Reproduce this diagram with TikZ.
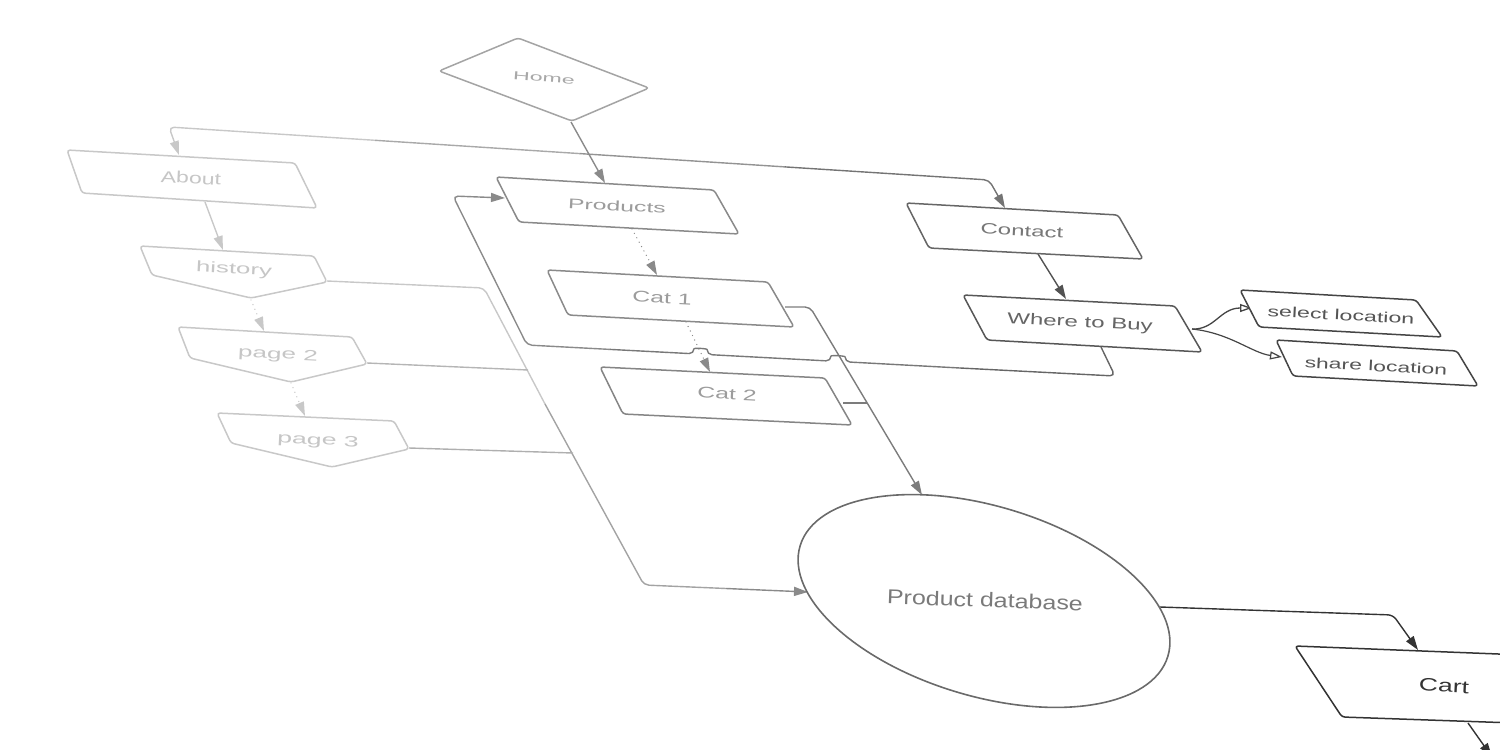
\documentclass[tikz,border=0pt]{standalone}
\usepackage{fontspec}
\setmainfont{Liberation Sans}
\usetikzlibrary{arrows.meta,shapes.geometric,calc}
\definecolor{cA}{HTML}{C8C8C8}
\definecolor{tA}{HTML}{C6C6C6}
\definecolor{cH}{HTML}{A4A4A4}
\definecolor{tH}{HTML}{A8A8A8}
\definecolor{cP}{HTML}{8A8A8A}
\definecolor{tP}{HTML}{9C9C9C}
\definecolor{cC}{HTML}{666666}
\definecolor{tC}{HTML}{777777}
\definecolor{cS}{HTML}{454545}
\definecolor{tS}{HTML}{555555}
\definecolor{cD}{HTML}{6A6A6A}
\definecolor{tD}{HTML}{7A7A7A}
\definecolor{cK}{HTML}{333333}
\tikzset{
  shapeline/.style={line width=1.5pt, rounded corners=3pt, fill=white, line join=round},
  conn/.style={line width=1.4pt, rounded corners=5pt},
  filltip/.style={-{Triangle[length=14pt,width=9pt]}},
  opentip/.style={-{Triangle[open,length=12pt,width=8pt,fill=white]}},
  dotline/.style={line width=1.4pt, line cap=round, dash pattern=on 0pt off 5pt},
  lbl/.style n args={4}{inner sep=0pt, text=#4, rotate=#3, xscale=#2, font=\fontsize{#1}{#1}\selectfont},
}
\begin{document}
\begin{tikzpicture}[x=1pt,y=-1pt]
\useasboundingbox (0,0) rectangle (1500,750);

% ---------- named anchor coordinates ----------
\coordinate (homeB) at (571,122);
\coordinate (aboutTop) at (179,155);
\coordinate (aboutB) at (205,202);
\coordinate (histTop) at (223,250);
\coordinate (histR) at (327,281);
\coordinate (histB) at (251,300);
\coordinate (p2Top) at (264,331);
\coordinate (p2R) at (367,363);
\coordinate (p2B) at (291,383);
\coordinate (p3Top) at (305,416);
\coordinate (p3R) at (409,448);
\coordinate (prodTop) at (605,183);
\coordinate (prodL) at (505,198);
\coordinate (prodB) at (632,229);
\coordinate (cat1Top) at (657,275);
\coordinate (cat1R) at (785,307);
\coordinate (cat1B) at (686,322);
\coordinate (cat2Top) at (710,372);
\coordinate (cat2R) at (843,403);
\coordinate (contactTop) at (1005,208);
\coordinate (contactB) at (1038,254);
\coordinate (whereTop) at (1066,299);
\coordinate (whereB) at (1101,347);
\coordinate (whereR) at (1192,329);
\coordinate (selL) at (1252,308);
\coordinate (shareL) at (1282,357);
\coordinate (dbTop) at (922,495);
\coordinate (dbL) at (808,592);
\coordinate (dbR) at (1160,607);
\coordinate (cartTop) at (1418,650);
\coordinate (cartB) at (1468,723);
\coordinate (cartOut) at (1492,757);
% corners of connectors
\coordinate (tlc1) at (169,127);
\coordinate (tlc2) at (989,180);
\coordinate (tlm1) at (375,140.3);
\coordinate (tlm2) at (580,153.6);
\coordinate (tlm3) at (785,166.9);
\coordinate (hc1) at (484,288);
\coordinate (hm) at (545,404);
\coordinate (hc2) at (644,585);
\coordinate (hm2) at (726,588.5);
\coordinate (j2) at (528,370);
\coordinate (j3) at (573,453);
\coordinate (lc1) at (1115,376);
\coordinate (lb1a) at (845,361.8);
\coordinate (lb1b) at (831,361.1);
\coordinate (lb2a) at (707,354.5);
\coordinate (lb2b) at (694,353.8);
\coordinate (lm) at (960,368);
\coordinate (lm2) at (610,349.4);
\coordinate (lc2) at (527,345);
\coordinate (lc3) at (453,196);
\coordinate (cc1) at (810,307);
\coordinate (cj2) at (867,403);
\coordinate (ec1) at (1393,615);

% ---------- connectors ----------
% Home -> About / Contact
\draw[conn, filltip, draw=cA] (tlm1) -- (tlc1) -- (aboutTop);
\draw[conn, draw=cA!50!cP] (tlm1) -- (tlm2);
\draw[conn, draw=cA!15!cP] (tlm2) -- (tlm3);
\draw[conn, filltip, draw=cC!60!cP] (tlm3) -- (tlc2) -- (contactTop);
% Home -> Products
\draw[conn, filltip, draw=cP] (homeB) -- (prodTop);
% About -> history, dotted chain
\draw[conn, filltip, draw=cA] (aboutB) -- (histTop);
\draw[dotline, filltip, draw=cA] (histB) -- (p2Top);
\draw[dotline, filltip, draw=cA] (p2B) -- (p3Top);
% pages -> Product database
\draw[conn, draw=cA] (histR) -- (hc1) -- (hm);
\draw[conn, draw=cA!40!cP] (hm) -- (hc2) -- (hm2);
\draw[conn, filltip, draw=cP] (hm2) -- (dbL);
\draw[conn, draw=cA!70!cP] (p2R) -- (j2);
\draw[conn, draw=cA!60!cP] (p3R) -- (j3);
% Products -> Cat 1 -> Cat 2 dotted
\draw[dotline, filltip, draw=cP] (prodB) -- (cat1Top);
\draw[dotline, filltip, draw=cP] (cat1B) -- (cat2Top);
% Cat 1 / Cat 2 -> Product database
\draw[conn, filltip, draw=cP!60!cC] (cat1R) -- (cc1) -- (dbTop);
\draw[conn, draw=cP!60!cC] (cat2R) -- (cj2);
% Where to Buy -> Products loop (with line jumps)
\draw[conn, draw=cC] (whereB) -- (lc1) -- (lm);
\draw[conn, draw=cC!50!cP] (lm) -- (lb1a) .. controls +(0,-6) and +(0,-6) .. (lb1b)
      -- (lb2a) .. controls +(0,-6) and +(0,-6) .. (lb2b) -- (lm2);
\draw[conn, filltip, draw=cP] (lm2) -- (lc2) -- (lc3) -- (prodL);
% Contact -> Where to Buy
\draw[conn, filltip, draw=cC!80!black] (contactB) -- (whereTop);
% Where to Buy -> select / share
\draw[line width=1.3pt, opentip, draw=cS] (whereR) .. controls (1215,330) and (1220,308) .. (selL);
\draw[line width=1.2pt, opentip, draw=cS] (whereR) .. controls (1230,333) and (1252,353) .. (shareL);
% Product database -> Cart
\draw[conn, filltip, draw=cK] (dbR) -- (ec1) -- (cartTop);
% Cart -> out
\draw[conn, filltip, draw=cK] (cartB) -- (cartOut);

% ---------- shapes ----------
\draw[shapeline, draw=cH] (518,38) -- (649,88) -- (572,121) -- (439,71) -- cycle;
\draw[shapeline, draw=cA] (67,150) -- (295,163) -- (317,208) -- (82,193) -- cycle;
\draw[shapeline, draw=cA] (140,246) -- (314,256) -- (327,282) -- (251,298) -- (152,275) -- cycle;
\draw[shapeline, draw=cA] (178,327) -- (352,337) -- (367,364) -- (291,382) -- (190,358) -- cycle;
\draw[shapeline, draw=cA] (217,413) -- (394,421) -- (409,449) -- (332,467) -- (231,443) -- cycle;
\draw[shapeline, draw=cP] (496,177) -- (714,190) -- (739,234) -- (519,222) -- cycle;
\draw[shapeline, draw=cP] (547,270) -- (768,282) -- (794,327) -- (568,315) -- cycle;
\draw[shapeline, draw=cP!85!cC] (600,367) -- (825,378) -- (852,425) -- (623,414) -- cycle;
\draw[shapeline, draw=cC] (906,203) -- (1118,215) -- (1143,259) -- (929,248) -- cycle;
\draw[shapeline, draw=cC!85!black] (963,295) -- (1175,306) -- (1202,352) -- (987,340) -- cycle;
\draw[shapeline, draw=cS] (1240,290) -- (1416,300) -- (1442,337) -- (1259,327) -- cycle;
\draw[shapeline, draw=cS] (1276,340) -- (1457,351) -- (1478,386) -- (1293,376) -- cycle;
\draw[shapeline, draw=cK] (1295,646) -- (1600,658) -- (1630,727) -- (1342,717) -- cycle;
\node[ellipse, draw=cD, line width=1.6pt, minimum width=384pt, minimum height=190pt,
      inner sep=0pt, rotate=-16.7] (db) at (984,601) {};

% ---------- labels ----------
\node[lbl={11.6}{2.0}{-4.5}{tH}] (home) at (544,78) {Home};
\node[lbl={16}{1.44}{-3}{tA}] (about) at (191,178) {About};
\node[lbl={15}{1.72}{-3}{tA}] (history) at (234,270) {history};
\node[lbl={15}{1.74}{-3}{tA}] (page2) at (278,355) {page 2};
\node[lbl={15}{1.78}{-3}{tA}] (page3) at (318,441) {page 3};
\node[lbl={14}{1.77}{-3}{tP}] (products) at (617,206) {Products};
\node[lbl={15.5}{1.6}{-3}{tP}] (cat1) at (662,298) {Cat 1};
\node[lbl={15.5}{1.6}{-3}{tP}] (cat2) at (727,394) {Cat 2};
\node[lbl={15}{1.6}{-3}{tC}] (contact) at (1022,231) {Contact};
\node[lbl={15.5}{1.55}{-3}{tC!85!black}] (where) at (1080,323) {Where to Buy};
\node[lbl={14.5}{1.6}{-3}{tS}] (select) at (1341,315) {select location};
\node[lbl={14.5}{1.58}{-3}{tS}] (share) at (1376,366) {share location};
\node[lbl={20}{1.25}{-2}{tD}] (dbtext) at (985,600) {Product database};
\node[lbl={18}{1.47}{-3}{cK}] (cart) at (1444,686) {Cart};
\end{tikzpicture}
\end{document}
